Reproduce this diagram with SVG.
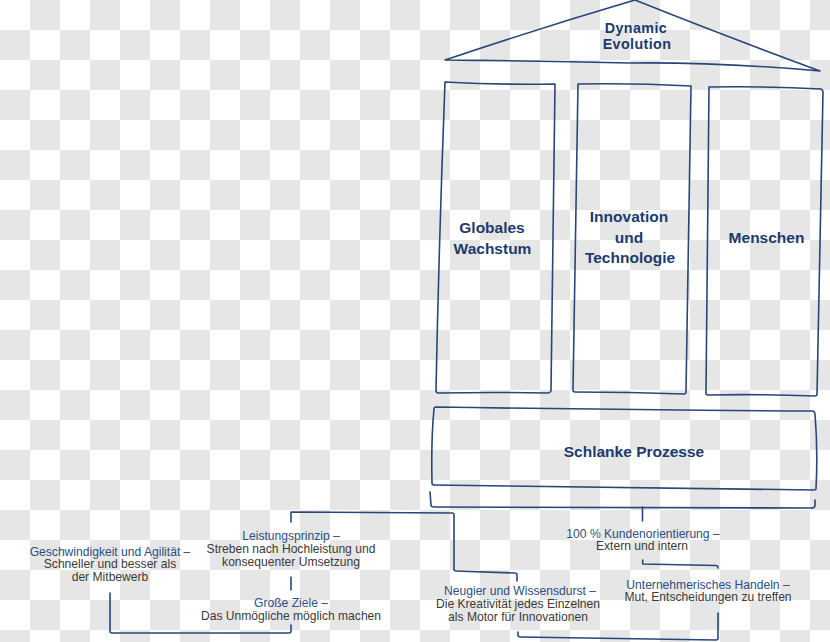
<svg xmlns="http://www.w3.org/2000/svg" width="830" height="642" viewBox="0 0 830 642">
<defs>
<pattern id="checker" x="0" y="0" width="60" height="60" patternUnits="userSpaceOnUse">
<rect x="0" y="0" width="60" height="60" fill="#ffffff"/>
<rect x="30" y="0" width="30" height="30" fill="#e6e6e6"/>
<rect x="0" y="30" width="30" height="30" fill="#e6e6e6"/>
</pattern>
<style>
.ln{fill:none;stroke:#27467a;stroke-width:1.6;stroke-linecap:round;stroke-linejoin:round}
.title{font-family:"Liberation Sans",Arial,sans-serif;font-weight:bold;font-size:15.5px;fill:#1d3a6d;text-anchor:middle}
.roof{font-family:"Liberation Sans",Arial,sans-serif;font-weight:bold;font-size:14.3px;letter-spacing:0.4px;fill:#1d3a6d;text-anchor:middle}
.head{font-family:"Liberation Sans",Arial,sans-serif;font-size:12.1px;fill:#2d4d83;text-anchor:middle}
.body{font-family:"Liberation Sans",Arial,sans-serif;font-size:12.1px;fill:#3a3a3a;text-anchor:middle}
</style>
</defs>
<rect x="0" y="0" width="830" height="642" fill="url(#checker)"/>

<g id="roof">
<path class="ln" d="M445,60 Q540,28 635,0 Q720,34 820,71 Q720,62 630,63 Q540,61 445,60 Z"/>
<text class="roof" x="636" y="32.5">Dynamic</text>
<text class="roof" x="637" y="48.5">Evolution</text>
</g>

<g id="pillar-globales">
<path class="ln" d="M445,82 Q500,85 555,84 Q553,240 551,391 Q550,393 548,393 Q495,392 438,393 Q436,393 436,390 Q439,240 445,82 Z"/>
<text class="title" x="492" y="233">Globales</text>
<text class="title" x="492.5" y="254">Wachstum</text>
</g>

<g id="pillar-innovation">
<path class="ln" d="M578,84 Q635,83 691,86 Q688,240 686,392 Q686,394 684,394 Q630,392 575,392 Q573,392 573,390 Q575,240 578,84 Z"/>
<text class="title" x="629" y="222">Innovation</text>
<text class="title" x="629" y="243">und</text>
<text class="title" x="630" y="263">Technologie</text>
</g>

<g id="pillar-menschen">
<path class="ln" d="M709,87 Q765,86 821,89 Q823,90 823,92 Q820,240 817,394 Q817,396 815,396 Q760,394 708,395 Q706,395 706,393 Q708,240 709,87 Z"/>
<text class="title" x="766.5" y="243">Menschen</text>
</g>

<g id="base-schlanke">
<path class="ln" d="M436,407 Q630,410 813,411 Q815,412 815,414 Q818,450 816,489 Q816,490 814,490 Q630,488 434,485 Q432,485 432,483 Q431,440 434,409 Q434,407 436,407 Z"/>
<text class="title" x="634" y="457">Schlanke Prozesse</text>
</g>

<g id="connectors">
<path class="ln" d="M430,492 L431,505 Q431,507 434,507 L812,508 Q815,508 815,505 L815,500"/>
<path class="ln" d="M642.5,507 L642.5,521"/>
<path class="ln" d="M291,522 L291,512 L452,513 Q454,513 454,515 L454,569 Q454,571 456,571 L515,573 Q517,573 517,575 L517,581"/>
<path class="ln" d="M291,577 L291,590"/>
<path class="ln" d="M291,625 L291,631 Q291,633 289,633 L112,633 Q110,633 110,631 L110,593"/>
<path class="ln" d="M642.7,560 L642.7,564 L716,565.5 Q718,565.7 718,568"/>
<path class="ln" d="M718,613 L718,638 Q718,640 716,640 L520,637 Q518,637 518,635 L518,632"/>
</g>

<g id="label-geschwindigkeit">
<text class="head" x="110" y="555.5">Geschwindigkeit und Agilität –</text>
<text class="body" x="110" y="568">Schneller und besser als</text>
<text class="body" x="110" y="580.5">der Mitbewerb</text>
</g>

<g id="label-leistungsprinzip">
<text class="head" x="291" y="540">Leistungsprinzip –</text>
<text class="body" x="291" y="553">Streben nach Hochleistung und</text>
<text class="body" x="291" y="566">konsequenter Umsetzung</text>
</g>

<g id="label-grosse-ziele">
<text class="head" x="291" y="607">Große Ziele –</text>
<text class="body" x="291" y="619.5">Das Unmögliche möglich machen</text>
</g>

<g id="label-neugier">
<text class="head" x="520" y="594.5">Neugier und Wissensdurst –</text>
<text class="body" x="518" y="607.5">Die Kreativität jedes Einzelnen</text>
<text class="body" x="518" y="620.5">als Motor für Innovationen</text>
</g>

<g id="label-kundenorientierung">
<text class="head" x="643" y="537.5">100 % Kundenorientierung –</text>
<text class="body" x="642" y="550">Extern und intern</text>
</g>

<g id="label-unternehmerisch">
<text class="head" x="708" y="588.5">Unternehmerisches Handeln –</text>
<text class="body" x="708" y="601">Mut, Entscheidungen zu treffen</text>
</g>
</svg>
